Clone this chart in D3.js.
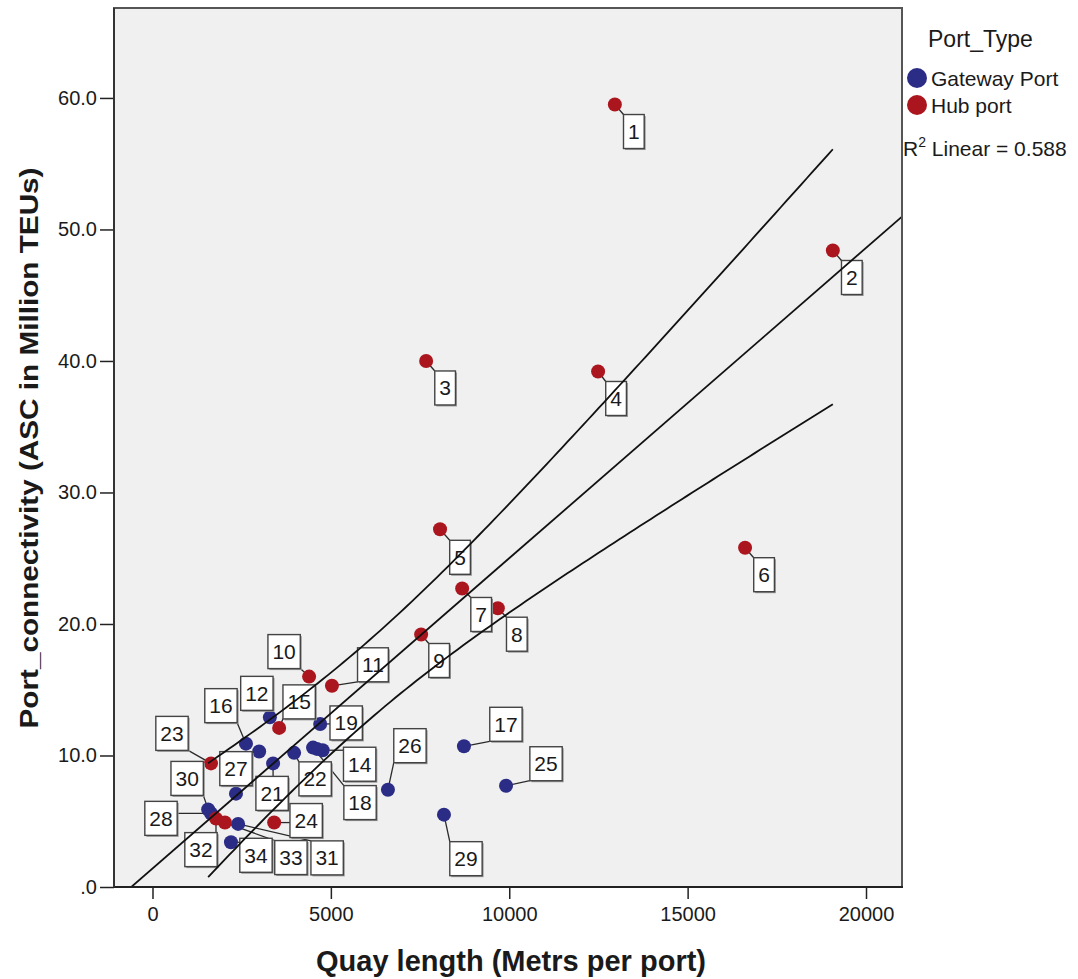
<!DOCTYPE html>
<html>
<head>
<meta charset="utf-8">
<script src="https://cdn.jsdelivr.net/npm/d3@7"></script>
<style>
  body { margin: 0; background: #fff; }
  svg { display: block; }
  text { font-family: "Liberation Sans", Arial, sans-serif; fill: #1a1a1a; }
</style>
</head>
<body>
<svg id="chart" width="1078" height="979"></svg>
<script>
// Port identifiers (case numbers)
const portIds = ["1","2","3","4","5","6","7","8","9","10","11","12","13","14","15","16","17",
                 "18","19","20","21","22","23","24","25","26","27","28","29","30","31","32","33","34"];

// Quay length (metres per port)
const quayLength = [12960, 19070, 7670, 12490, 8060, 16610, 8680, 9680, 7530, 4390, 5030, 3290, 2990,
                    4770, 3550, 2620, 8730, 4500, 4700, 4610, 3380, 3970, 1640, 3410, 9910, 6600,
                    2340, 1640, 8170, 1560, 2400, 1780, 2030, 2200];

// Port connectivity (ASC in million TEUs)
const connectivity = [59.5, 48.4, 40.0, 39.2, 27.2, 25.8, 22.7, 21.2, 19.2, 16.0, 15.3, 12.9, 10.3,
                      10.4, 12.1, 10.9, 10.7, 10.6, 12.4, 10.5, 9.4, 10.2, 9.4, 4.9, 7.7, 7.4,
                      7.1, 5.6, 5.5, 5.9, 4.8, 5.2, 4.9, 3.4];

// Port type of each case
const portType = ["Hub port","Hub port","Hub port","Hub port","Hub port","Hub port","Hub port","Hub port",
                  "Hub port","Hub port","Hub port","Gateway Port","Gateway Port","Gateway Port","Hub port",
                  "Gateway Port","Gateway Port","Gateway Port","Gateway Port","Gateway Port","Gateway Port",
                  "Gateway Port","Hub port","Hub port","Gateway Port","Gateway Port","Gateway Port",
                  "Gateway Port","Gateway Port","Gateway Port","Gateway Port","Hub port","Hub port","Gateway Port"];

// Which case labels are shown (overlapping ones are suppressed)
const labelShown = [1,1,1,1,1,1,1,1,1,1,1,1,0,1,1,1,1,1,1,0,1,1,1,1,1,1,1,1,1,1,1,1,1,1];

const typeCategories = ["Gateway Port", "Hub port"];
const xTickValues = [0, 5000, 10000, 15000, 20000];
const xTickLabels = ["0", "5000", "10000", "15000", "20000"];
const yTickValues = [0, 10, 20, 30, 40, 50, 60];
const yTickLabels = [".0", "10.0", "20.0", "30.0", "40.0", "50.0", "60.0"];
const rSquaredText = "0.588";

// Label box placement relative to its marker (pixels)
const labelOffsets = [[19,27],[19,27],[19,27],[18,27],[20,28],[19,27],[19,26],[19,26],[18,26],[-25,-25],
                      [41,-21],[-13,-24],[0,0],[37,14],[20,-26],[-25,-38],[42,-22],[47,55],[26,-1],[0,0],
                      [-1,30],[21,26],[-39,-30],[32,-2],[40,-22],[22,-44],[0,-25],[-50,5],[22,44],[-21,-31],
                      [89,34],[-15,31],[66,35],[25,13]];

// ---- layout ----
const plot = { left: 114, right: 902, top: 8, bottom: 887 };
const svg = d3.select("#chart");

const x = d3.scaleLinear().domain([-1079, 21009]).range([plot.left, plot.right]);
const y = d3.scaleLinear().domain([0, 66.84]).range([plot.bottom, plot.top]);
const color = d3.scaleOrdinal().domain(typeCategories).range(["#2b2c86", "#ab161e"]);

const points = portIds.map((id, i) => ({
  id, qx: quayLength[i], cy: connectivity[i], type: portType[i],
  shown: labelShown[i] === 1, off: labelOffsets[i]
}));

// ---- least-squares fit and 95% mean confidence band ----
const n = points.length;
const mx = d3.mean(quayLength), my = d3.mean(connectivity);
let sxx = 0, sxy = 0, syy = 0;
points.forEach(p => {
  sxx += (p.qx - mx) ** 2; sxy += (p.qx - mx) * (p.cy - my); syy += (p.cy - my) ** 2;
});
const slope = sxy / sxx, intercept = my - slope * mx;
const sErr = Math.sqrt((syy - slope * sxy) / (n - 2));
const tCrit = 2.037; // t(0.975, df = 32)
const fit = v => intercept + slope * v;
const halfWidth = v => tCrit * sErr * Math.sqrt(1 / n + (v - mx) ** 2 / sxx);

// ---- plot background ----
svg.append("defs").append("clipPath").attr("id", "plotClip")
  .append("rect").attr("x", plot.left).attr("y", plot.top)
  .attr("width", plot.right - plot.left).attr("height", plot.bottom - plot.top);

svg.append("rect")
  .attr("x", plot.left).attr("y", plot.top)
  .attr("width", plot.right - plot.left).attr("height", plot.bottom - plot.top)
  .attr("fill", "#f0f0f0");

// ---- axes ----
const xAxis = d3.axisBottom(x).tickValues(xTickValues)
  .tickFormat((d, i) => xTickLabels[i]).tickSize(12).tickPadding(8);
const gx = svg.append("g").attr("transform", `translate(0,${plot.bottom})`).call(xAxis);
gx.select(".domain").remove();
gx.selectAll(".tick line").attr("stroke", "#222").attr("stroke-width", 1.5);
gx.selectAll(".tick text").attr("font-size", 20).attr("fill", "#222")
  .attr("font-family", '"Liberation Sans", Arial, sans-serif');

const yAxis = d3.axisLeft(y).tickValues(yTickValues)
  .tickFormat((d, i) => yTickLabels[i]).tickSize(14).tickPadding(3);
const gy = svg.append("g").attr("transform", `translate(${plot.left},0)`).call(yAxis);
gy.select(".domain").remove();
gy.selectAll(".tick line").attr("stroke", "#222").attr("stroke-width", 1.5);
gy.selectAll(".tick text").attr("font-size", 20).attr("fill", "#222")
  .attr("font-family", '"Liberation Sans", Arial, sans-serif');

// ---- case labels: leaders, markers, boxes ----
const labelLayer = svg.append("g").attr("clip-path", "url(#plotClip)");
const shownPts = points.filter(p => p.shown);

// measure label boxes
const measure = svg.append("text").attr("font-size", 21).attr("visibility", "hidden");
shownPts.forEach(p => {
  measure.text(p.id);
  const w = measure.node().getComputedTextLength() + 9;
  const h = 34;
  const cx = x(p.qx) + p.off[0], cyy = y(p.cy) + p.off[1];
  p.box = { x: cx - w / 2, y: cyy - h / 2, w, h, cx, cy: cyy };
});
measure.remove();

// leader lines from marker to nearest point of its box
labelLayer.selectAll("line.leader").data(shownPts).join("line")
  .attr("class", "leader")
  .attr("x1", p => x(p.qx)).attr("y1", p => y(p.cy))
  .attr("x2", p => Math.max(p.box.x, Math.min(x(p.qx), p.box.x + p.box.w)))
  .attr("y2", p => Math.max(p.box.y, Math.min(y(p.cy), p.box.y + p.box.h)))
  .attr("stroke", "#2a2a2a").attr("stroke-width", 1.3);

// markers
labelLayer.selectAll("circle.pt").data(points).join("circle")
  .attr("class", "pt")
  .attr("cx", p => x(p.qx)).attr("cy", p => y(p.cy)).attr("r", 7)
  .attr("fill", p => color(p.type));

// label boxes
const boxes = labelLayer.selectAll("g.lbl").data(shownPts).join("g").attr("class", "lbl");
boxes.append("rect")
  .attr("x", p => p.box.x + 1.5).attr("y", p => p.box.y + 1.5)
  .attr("width", p => p.box.w).attr("height", p => p.box.h)
  .attr("fill", "#9a9a9a");
boxes.append("rect")
  .attr("x", p => p.box.x).attr("y", p => p.box.y)
  .attr("width", p => p.box.w).attr("height", p => p.box.h)
  .attr("fill", "#fff").attr("stroke", "#444").attr("stroke-width", 1.4);
boxes.append("text")
  .attr("x", p => p.box.cx).attr("y", p => p.box.cy + 7.5)
  .attr("text-anchor", "middle").attr("font-size", 21)
  .text(p => p.id);

// ---- fit line and confidence band ----
const lineGen = d3.line().x(d => x(d[0])).y(d => y(d[1]));
const fitLayer = svg.append("g").attr("clip-path", "url(#plotClip)")
  .attr("fill", "none").attr("stroke", "#111").attr("stroke-width", 1.8);

const xd = x.domain();
fitLayer.append("path").attr("d", lineGen([[xd[0], fit(xd[0])], [xd[1], fit(xd[1])]]));

const xMinData = d3.min(quayLength), xMaxData = d3.max(quayLength);
const bandXs = d3.range(0, 121).map(i => xMinData + (xMaxData - xMinData) * i / 120);
fitLayer.append("path").attr("d", lineGen(bandXs.map(v => [v, fit(v) + halfWidth(v)])));
fitLayer.append("path").attr("d", lineGen(bandXs.map(v => [v, fit(v) - halfWidth(v)])));

// ---- frame ----
svg.append("rect")
  .attr("x", plot.left).attr("y", plot.top)
  .attr("width", plot.right - plot.left).attr("height", plot.bottom - plot.top)
  .attr("fill", "none").attr("stroke", "#555").attr("stroke-width", 2);
svg.append("line")
  .attr("x1", plot.left - 1).attr("x2", plot.right + 1)
  .attr("y1", plot.bottom).attr("y2", plot.bottom)
  .attr("stroke", "#222").attr("stroke-width", 2);
svg.append("line")
  .attr("x1", plot.left).attr("x2", plot.left)
  .attr("y1", plot.top).attr("y2", plot.bottom)
  .attr("stroke", "#333").attr("stroke-width", 2);

// ---- axis titles ----
svg.append("text")
  .attr("x", 511).attr("y", 971).attr("text-anchor", "middle")
  .attr("font-size", 29).attr("font-weight", "bold")
  .attr("font-family", '"Liberation Sans Narrow", "Arial Narrow", "Liberation Sans", Arial, sans-serif')
  .attr("textLength", 390).attr("lengthAdjust", "spacingAndGlyphs")
  .text("Quay length (Metrs per port)");

svg.append("text")
  .attr("transform", "translate(38,448) rotate(-90)").attr("text-anchor", "middle")
  .attr("font-size", 26).attr("font-weight", "bold")
  .attr("font-family", '"Liberation Sans Narrow", "Arial Narrow", "Liberation Sans", Arial, sans-serif')
  .attr("textLength", 561).attr("lengthAdjust", "spacingAndGlyphs")
  .text("Port_connectivity (ASC in Million TEUs)");

// ---- legend ----
const legend = svg.append("g");
legend.append("text").attr("x", 928).attr("y", 47).attr("font-size", 23).text("Port_Type");
const items = legend.selectAll("g.item").data(typeCategories).join("g").attr("class", "item")
  .attr("transform", (d, i) => `translate(0,${78 + i * 27})`);
items.append("circle").attr("cx", 917).attr("cy", 0).attr("r", 10).attr("fill", d => color(d));
items.append("text").attr("x", 931).attr("y", 8).attr("font-size", 21).text(d => d);

const r2 = legend.append("text").attr("x", 903).attr("y", 156).attr("font-size", 21);
r2.append("tspan").text("R");
r2.append("tspan").attr("font-size", 14).attr("dy", -9).text("2");
r2.append("tspan").attr("dy", 9).text(" Linear = " + rSquaredText);
</script>
</body>
</html>
